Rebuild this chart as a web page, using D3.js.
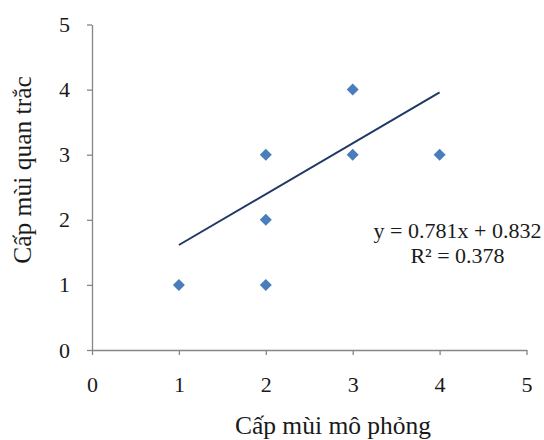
<!DOCTYPE html>
<html>
<head>
<meta charset="utf-8">
<script src="https://cdn.jsdelivr.net/npm/d3@7"></script>
<style>
  body { margin: 0; background: #fff; }
  text { font-family: "Liberation Serif", "Times New Roman", serif; }
</style>
</head>
<body>
<div id="chart"></div>
<script>
// observed vs simulated odour levels
var simLevel = [1, 2, 2, 2, 3, 3, 4];
var obsLevel = [1, 1, 2, 3, 3, 4, 3];
var xTicks = [0, 1, 2, 3, 4, 5];
var yTicks = [0, 1, 2, 3, 4, 5];
var slope = 0.781, intercept = 0.832, r2 = 0.378;
var fitRange = [1, 4];

var width = 544, height = 440;

var svg = d3.select("#chart").append("svg")
    .attr("width", width)
    .attr("height", height);

var x = d3.scaleLinear().domain([0, 5]).range([92, 526.5]);
var y = d3.scaleLinear().domain([0, 5]).range([350, 24.5]);

// axes
var xAxis = svg.append("g")
    .attr("transform", "translate(0," + y(0) + ")")
    .call(d3.axisBottom(x).tickValues(xTicks).tickFormat(d3.format("d"))
        .tickSizeInner(5).tickSizeOuter(0).tickPadding(21));

var yAxis = svg.append("g")
    .attr("transform", "translate(" + x(0) + ",0)")
    .call(d3.axisLeft(y).tickValues(yTicks).tickFormat(d3.format("d"))
        .tickSizeInner(5).tickSizeOuter(0).tickPadding(17));

[xAxis, yAxis].forEach(function(g){
    g.select(".domain").attr("stroke", "#868686").attr("stroke-width", 1.3);
    g.selectAll(".tick line").attr("stroke", "#868686").attr("stroke-width", 1.3);
    g.selectAll(".tick text")
        .attr("fill", "#1a1a1a")
        .style("font-family", "'Liberation Serif', serif")
        .style("font-size", "22px");
});

// trend line
var fitPts = fitRange.map(function(v){ return [v, slope * v + intercept]; });
svg.append("path")
    .datum(fitPts)
    .attr("fill", "none")
    .attr("stroke", "#1f3864")
    .attr("stroke-width", 2)
    .attr("d", d3.line().x(function(d){ return x(d[0]); }).y(function(d){ return y(d[1]); }));

// points
var diamond = d3.symbol().type(d3.symbolSquare).size(72);
svg.selectAll(".pt")
    .data(simLevel.map(function(v, i){ return [v, obsLevel[i]]; }))
    .enter()
    .append("path")
    .attr("class", "pt")
    .attr("d", diamond)
    .attr("transform", function(d){ return "translate(" + x(d[0]) + "," + y(d[1]) + ") rotate(45)"; })
    .attr("fill", "#4a7ebb");

// equation label
var eq = svg.append("text")
    .attr("text-anchor", "middle")
    .attr("fill", "#1a1a1a")
    .style("font-size", "22px");
eq.append("tspan").attr("x", 457.5).attr("y", 238)
    .text("y = " + slope + "x + " + intercept);
eq.append("tspan").attr("x", 457.5).attr("y", 263)
    .text("R² = " + r2);

// axis titles
svg.append("text")
    .attr("x", 333).attr("y", 434)
    .attr("text-anchor", "middle")
    .attr("fill", "#1a1a1a")
    .style("font-size", "25.5px")
    .text("Cấp mùi mô phỏng");

svg.append("text")
    .attr("transform", "translate(31,170) rotate(-90)")
    .attr("text-anchor", "middle")
    .attr("fill", "#1a1a1a")
    .style("font-size", "25.5px")
    .text("Cấp mùi quan trắc");
</script>
</body>
</html>
